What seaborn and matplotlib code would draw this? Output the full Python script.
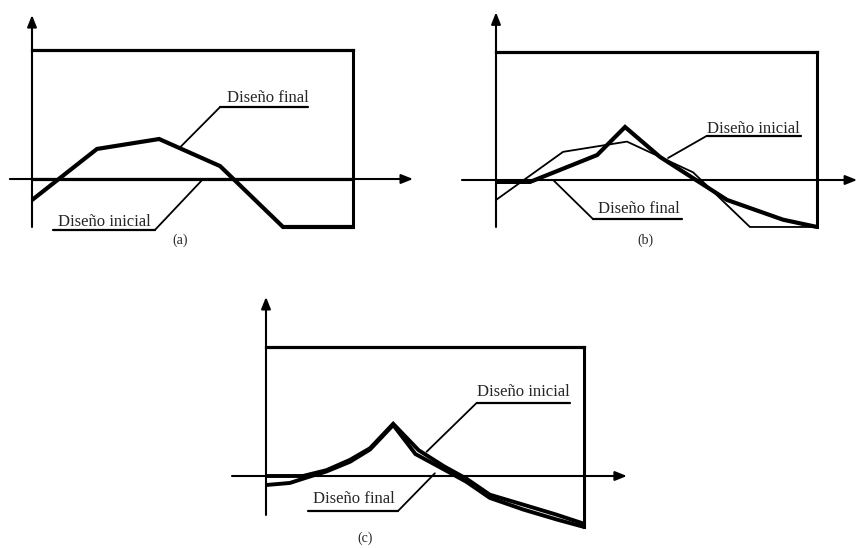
import matplotlib
matplotlib.use("Agg")
import matplotlib.pyplot as plt
import seaborn as sns
import pandas as pd

sns.set_style("white")
plt.rcParams["font.family"] = ["Liberation Serif", "DejaVu Serif"]

# ---------------- data (x: normalised position, y: normalised value) -------------
# Panel (a)
a_init_x = [0.0, 1.0]
a_init_y = [0.0, 0.0]
a_final_x = [0.0, 0.2025, 0.396, 0.586, 0.782, 1.0]
a_final_y = [-0.163, 0.233, 0.31, 0.10, -0.372, -0.372]

# Panel (b)
b_init_x = [0.0, 0.209, 0.408, 0.614, 0.791, 1.0]
b_init_y = [-0.156, 0.22, 0.30, 0.06, -0.367, -0.367]
b_final_x = [0.0, 0.106, 0.315, 0.402, 0.511, 0.72, 0.894, 1.0]
b_final_y = [-0.015, -0.015, 0.195, 0.414, 0.18, -0.156, -0.31, -0.367]

# Panel (c)
c_init_x = [0.0, 0.116, 0.19, 0.264, 0.327, 0.40, 0.48, 0.56, 0.63, 0.704, 0.809, 0.914, 1.0]
c_init_y = [0.0, 0.0, 0.045, 0.125, 0.215, 0.405, 0.20, 0.075, -0.02, -0.145, -0.222, -0.30, -0.37]
c_final_x = [0.0, 0.075, 0.138, 0.19, 0.264, 0.327, 0.40, 0.47, 0.56, 0.63, 0.704, 0.809, 0.914, 1.0]
c_final_y = [-0.07, -0.054, -0.004, 0.035, 0.11, 0.205, 0.395, 0.17, 0.05, -0.045, -0.17, -0.26, -0.337, -0.395]

bound_y = 1.0
labels = ["Diseño inicial", "Diseño final"]
captions = ["(a)", "(b)", "(c)"]

W, H = 857, 548
fig = plt.figure(figsize=(W / 100, H / 100), dpi=100)


def panel_axes(ox, oy, sx, sy, xlim, ylim):
    left_px = ox + xlim[0] * sx
    right_px = ox + xlim[1] * sx
    top_px = oy - ylim[1] * sy
    bot_px = oy - ylim[0] * sy
    ax = fig.add_axes([left_px / W, 1 - bot_px / H,
                       (right_px - left_px) / W, (bot_px - top_px) / H])
    ax.set_xlim(xlim)
    ax.set_ylim(ylim)
    ax.axis("off")
    return ax


def arrow(ax, start, tip):
    ax.annotate("", xy=tip, xytext=start,
                arrowprops=dict(arrowstyle="-|>,head_length=0.7,head_width=0.28",
                                lw=1.5, color="black", shrinkA=0, shrinkB=0),
                annotation_clip=False)


def frame(ax, xa0, xa1, ya0, ya1, right_bottom):
    arrow(ax, (xa0, 0), (xa1, 0))
    arrow(ax, (0, ya0), (0, ya1))
    ax.plot([0, 1], [bound_y, bound_y], color="black", lw=2.3, solid_capstyle="projecting")
    ax.plot([1, 1], [bound_y, right_bottom], color="black", lw=2.2, solid_capstyle="projecting")


def curve(ax, xs, ys, lw):
    df = pd.DataFrame({"x": xs, "y": ys})
    sns.lineplot(data=df, x="x", y="y", ax=ax, color="black", lw=lw,
                 sort=False, estimator=None, solid_joinstyle="miter",
                 solid_capstyle="butt")
    ax.set_xlabel("")
    ax.set_ylabel("")


def label(ax, text, tx, ty, ux0, ux1, uy, lead_from, lead_to):
    ax.text(tx, ty, text, fontsize=12, ha="left", va="baseline")
    ax.plot([ux0, ux1], [uy, uy], color="black", lw=1.6)
    ax.plot([lead_from[0], lead_to[0]], [lead_from[1], lead_to[1]], color="black", lw=1.3)


# ---------------- panel (a) ----------------
ax = panel_axes(32, 179, 321, 129, (-0.09, 1.3), (-0.55, 1.33))
frame(ax, -0.069, 1.187, -0.372, 1.271, a_final_y[-1])
curve(ax, a_init_x, a_init_y, 2.3)
curve(ax, a_final_x, a_final_y, 3.0)
label(ax, labels[1], 0.607, 0.597, 0.586, 0.86, 0.558, (0.586, 0.558), (0.461, 0.245))
label(ax, labels[0], 0.081, -0.364, 0.065, 0.383, -0.395, (0.383, -0.395), (0.533, 0.0))
ax.text(0.461, -0.473, captions[0], fontsize=10, ha="center", va="center")

# ---------------- panel (b) ----------------
ax = panel_axes(496, 180, 321, 128, (-0.11, 1.13), (-0.55, 1.35))
frame(ax, -0.106, 1.125, -0.367, 1.31, b_final_y[-1])
curve(ax, b_init_x, b_init_y, 1.3)
curve(ax, b_final_x, b_final_y, 3.0)
label(ax, labels[0], 0.656, 0.367, 0.656, 0.949, 0.344, (0.656, 0.344), (0.536, 0.172))
label(ax, labels[1], 0.318, -0.26, 0.303, 0.578, -0.307, (0.303, -0.307), (0.178, 0.0))
ax.text(0.464, -0.47, captions[1], fontsize=10, ha="center", va="center")

# ---------------- panel (c) ----------------
ax = panel_axes(266, 476, 318, 129, (-0.11, 1.2), (-0.55, 1.42))
frame(ax, -0.107, 1.135, -0.302, 1.388, c_final_y[-1])
curve(ax, c_init_x, c_init_y, 2.8)
curve(ax, c_final_x, c_final_y, 2.8)
label(ax, labels[0], 0.663, 0.62, 0.663, 0.956, 0.568, (0.663, 0.568), (0.505, 0.188))
label(ax, labels[1], 0.149, -0.212, 0.133, 0.416, -0.269, (0.416, -0.269), (0.531, 0.021))
ax.text(0.311, -0.483, captions[2], fontsize=10, ha="center", va="center")

fig.savefig("out.png", dpi=100)
